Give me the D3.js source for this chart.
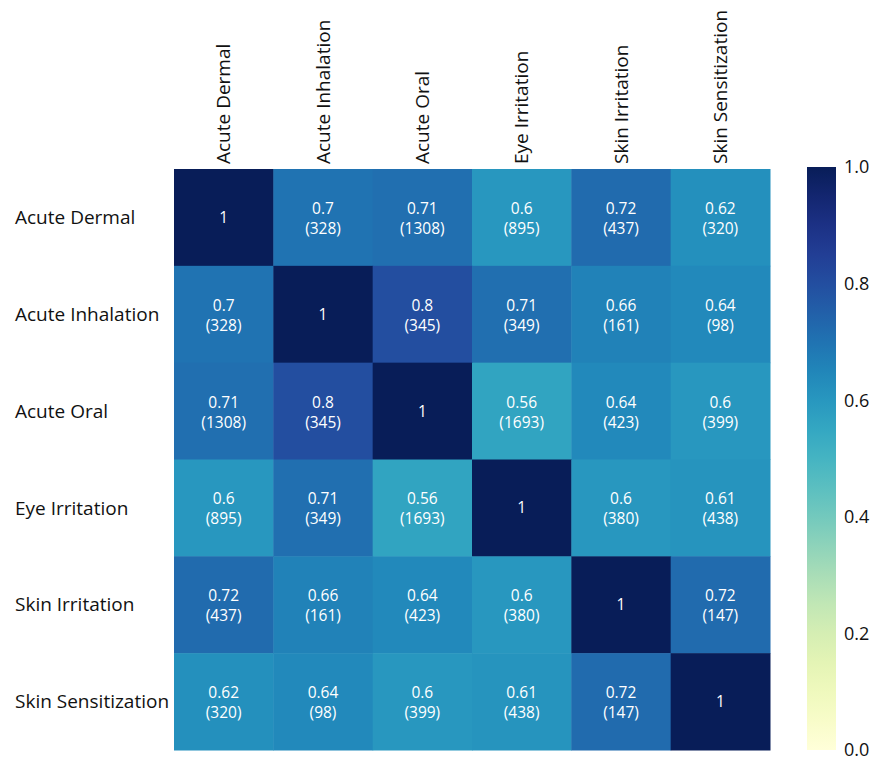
<!DOCTYPE html>
<html>
<head>
<meta charset="utf-8">
<script src="https://cdn.jsdelivr.net/npm/d3@7"></script>
<style>
  body { margin: 0; background: #fff; }
  svg text { font-family: "Open Sans", sans-serif; }
</style>
</head>
<body>
<svg id="chart" width="881" height="768"></svg>
<script>
const categories = ["Acute Dermal", "Acute Inhalation", "Acute Oral", "Eye Irritation", "Skin Irritation", "Skin Sensitization"];
const values = [
  [1, 0.7, 0.71, 0.6, 0.72, 0.62],
  [0.7, 1, 0.8, 0.71, 0.66, 0.64],
  [0.71, 0.8, 1, 0.56, 0.64, 0.6],
  [0.6, 0.71, 0.56, 1, 0.6, 0.61],
  [0.72, 0.66, 0.64, 0.6, 1, 0.72],
  [0.62, 0.64, 0.6, 0.61, 0.72, 1]
];
const counts = [
  [null, 328, 1308, 895, 437, 320],
  [328, null, 345, 349, 161, 98],
  [1308, 345, null, 1693, 423, 399],
  [895, 349, 1693, null, 380, 438],
  [437, 161, 423, 380, null, 147],
  [320, 98, 399, 438, 147, null]
];
const cbTicks = [0.0, 0.2, 0.4, 0.6, 0.8, 1.0];

const svg = d3.select("#chart");
const gLeft = 174, gTop = 169, gRight = 770, gBottom = 750;

const x = d3.scaleBand().domain(categories).range([gLeft, gRight]);
const y = d3.scaleBand().domain(categories).range([gTop, gBottom]);
const color = d3.scaleSequential(d3.interpolateYlGnBu).domain([0, 1]);

const cells = [];
values.forEach((row, i) => row.forEach((v, j) => cells.push({ r: categories[i], c: categories[j], v, n: counts[i][j] })));

const g = svg.append("g");
g.selectAll("rect").data(cells).enter().append("rect")
  .attr("x", d => x(d.c)).attr("y", d => y(d.r))
  .attr("width", x.bandwidth() + 0.5).attr("height", y.bandwidth() + 0.5)
  .attr("fill", d => color(d.v));

const cx = d => x(d.c) + x.bandwidth() / 2;
const cyy = d => y(d.r) + y.bandwidth() / 2;

// value line
g.selectAll("text.val").data(cells).enter().append("text")
  .attr("class", "val")
  .attr("x", cx)
  .attr("y", d => d.n == null ? cyy(d) : cyy(d) - 9)
  .attr("dy", "0.35em")
  .attr("text-anchor", "middle").attr("fill", "#fff").attr("font-size", 15.5)
  .text(d => String(d.v));

// count line
g.selectAll("text.cnt").data(cells.filter(d => d.n != null)).enter().append("text")
  .attr("class", "cnt")
  .attr("x", cx)
  .attr("y", d => cyy(d) + 11)
  .attr("dy", "0.35em")
  .attr("text-anchor", "middle").attr("fill", "#fff").attr("font-size", 15.5)
  .text(d => "(" + d.n + ")");

// row labels
svg.append("g").selectAll("text").data(categories).enter().append("text")
  .attr("x", 15).attr("y", d => y(d) + y.bandwidth() / 2).attr("dy", "0.35em")
  .attr("font-size", 19).attr("fill", "#111").text(d => d);

// column labels
svg.append("g").selectAll("text").data(categories).enter().append("text")
  .attr("transform", d => `translate(${x(d) + x.bandwidth() / 2},${gTop - 5}) rotate(-90)`)
  .attr("dy", "0.35em")
  .attr("font-size", 19).attr("fill", "#111").text(d => d);

// colorbar
const cbX = 807, cbW = 29, cbTop = 167, cbBot = 750;
const cy = d3.scaleLinear().domain([0, 1]).range([cbBot, cbTop]);
const defs = svg.append("defs");
const grad = defs.append("linearGradient").attr("id", "cbg").attr("x1", 0).attr("y1", 1).attr("x2", 0).attr("y2", 0);
d3.range(0, 1.0001, 0.05).forEach(t => grad.append("stop").attr("offset", t).attr("stop-color", color(t)));
svg.append("rect").attr("x", cbX).attr("y", cbTop).attr("width", cbW).attr("height", cbBot - cbTop).attr("fill", "url(#cbg)");
svg.append("g").selectAll("text").data(cbTicks).enter().append("text")
  .attr("x", cbX + cbW + 8).attr("y", d => cy(d)).attr("dy", "0.35em")
  .attr("font-size", 18).attr("fill", "#111").text(d => d.toFixed(1));
</script>
</body>
</html>
